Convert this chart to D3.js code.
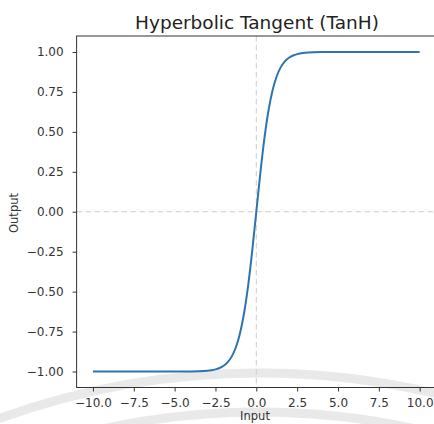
<!DOCTYPE html>
<html>
<head>
<meta charset="utf-8">
<script src="https://cdn.jsdelivr.net/npm/d3@7"></script>
<style>
  html, body { margin: 0; padding: 0; background: #fff; }
  svg { display: block; font-family: "DejaVu Sans", sans-serif; }
</style>
</head>
<body>
<svg id="chart" width="434" height="424"></svg>
<script>
// ---- data ----
const inputs = [-10, -9, -8, -7, -6, -5, -4, -3.5, -3, -2.75, -2.5, -2.25, -2, -1.75, -1.5, -1.25, -1, -0.75, -0.5, -0.25,
                0, 0.25, 0.5, 0.75, 1, 1.25, 1.5, 1.75, 2, 2.25, 2.5, 2.75, 3, 3.5, 4, 5, 6, 7, 8, 9, 10];
const outputs = [-1.000, -1.000, -1.000, -1.000, -1.000, -0.9999, -0.9993, -0.9982, -0.9951, -0.9919, -0.9866, -0.9780, -0.9640, -0.9414, -0.9051, -0.8483, -0.7616, -0.6351, -0.4621, -0.2449,
                 0.000, 0.2449, 0.4621, 0.6351, 0.7616, 0.8483, 0.9051, 0.9414, 0.9640, 0.9780, 0.9866, 0.9919, 0.9951, 0.9982, 0.9993, 0.9999, 1.000, 1.000, 1.000, 1.000, 1.000];
const xTicks = [-10, -7.5, -5, -2.5, 0, 2.5, 5, 7.5, 10];
const yTicks = [-1, -0.75, -0.5, -0.25, 0, 0.25, 0.5, 0.75, 1];
const titleText = "Hyperbolic Tangent (TanH)";
const xLabel = "Input";
const yLabel = "Output";

// ---- layout ----
const L = 76.6, R = 436, T = 36, B = 387.5;
const svg = d3.select("#chart");

const x = d3.scaleLinear().domain([-11, 11]).range([L, R]);
const y = d3.scaleLinear().domain([-1.1, 1.1]).range([B, T]);

// watermark arcs (decorative)
const wm = svg.append("g").attr("fill", "none").attr("stroke", "#e9e9e9");
wm.append("path").attr("stroke-width", 9)
  .attr("d", d3.arc()({innerRadius: 763, outerRadius: 763, startAngle: -Math.PI/2, endAngle: Math.PI/2}))
  .attr("transform", "translate(259,1136)");
wm.append("path").attr("stroke-width", 9)
  .attr("d", d3.arc()({innerRadius: 724, outerRadius: 724, startAngle: -Math.PI/2, endAngle: Math.PI/2}))
  .attr("transform", "translate(259,1136)");

// dashed reference lines
svg.append("line")
  .attr("x1", L).attr("x2", R).attr("y1", y(0)).attr("y2", y(0))
  .attr("stroke", "#cccccc").attr("stroke-width", 1).attr("stroke-dasharray", "5.5,3.5");
svg.append("line")
  .attr("x1", x(0)).attr("x2", x(0)).attr("y1", T).attr("y2", B)
  .attr("stroke", "#cccccc").attr("stroke-width", 1).attr("stroke-dasharray", "5.5,3.5");

// curve
const pts = inputs.map((v, i) => [v, outputs[i]]);
svg.append("path")
  .datum(pts)
  .attr("fill", "none")
  .attr("stroke", "#2e73b2")
  .attr("stroke-width", 2)
  .attr("d", d3.line().x(d => x(d[0])).y(d => y(d[1])).curve(d3.curveMonotoneX));

// axes
const fmtX = d => d3.format(".1f")(d).replace("-", "\u2212");
const fmtY = d => d3.format(".2f")(d).replace("-", "\u2212");

const xAxis = svg.append("g")
  .attr("transform", `translate(0,${B})`)
  .call(d3.axisBottom(x).tickValues(xTicks).tickFormat(fmtX).tickSize(4).tickPadding(7).tickSizeOuter(0));
const yAxis = svg.append("g")
  .attr("transform", `translate(${L},0)`)
  .call(d3.axisLeft(y).tickValues(yTicks).tickFormat(fmtY).tickSize(4).tickPadding(9).tickSizeOuter(0));

[xAxis, yAxis].forEach(g => {
  g.select(".domain").remove();
  g.selectAll(".tick line").attr("stroke", "#333");
  g.selectAll(".tick text").attr("fill", "#333").style("font-size", "12px").style("font-family", "DejaVu Sans");
});

// spines
svg.append("rect")
  .attr("x", L).attr("y", T).attr("width", R - L).attr("height", B - T)
  .attr("fill", "none").attr("stroke", "#333").attr("stroke-width", 1);

// title & labels
svg.append("text")
  .attr("x", 257).attr("y", 29)
  .attr("text-anchor", "middle")
  .attr("fill", "#222")
  .style("font-size", "18.5px")
  .text(titleText);

svg.append("text")
  .attr("x", 255).attr("y", 420)
  .attr("text-anchor", "middle")
  .attr("fill", "#333")
  .style("font-size", "11.5px")
  .text(xLabel);

svg.append("text")
  .attr("transform", `translate(18,213) rotate(-90)`)
  .attr("text-anchor", "middle")
  .attr("fill", "#333")
  .style("font-size", "11.5px")
  .text(yLabel);
</script>
</body>
</html>
